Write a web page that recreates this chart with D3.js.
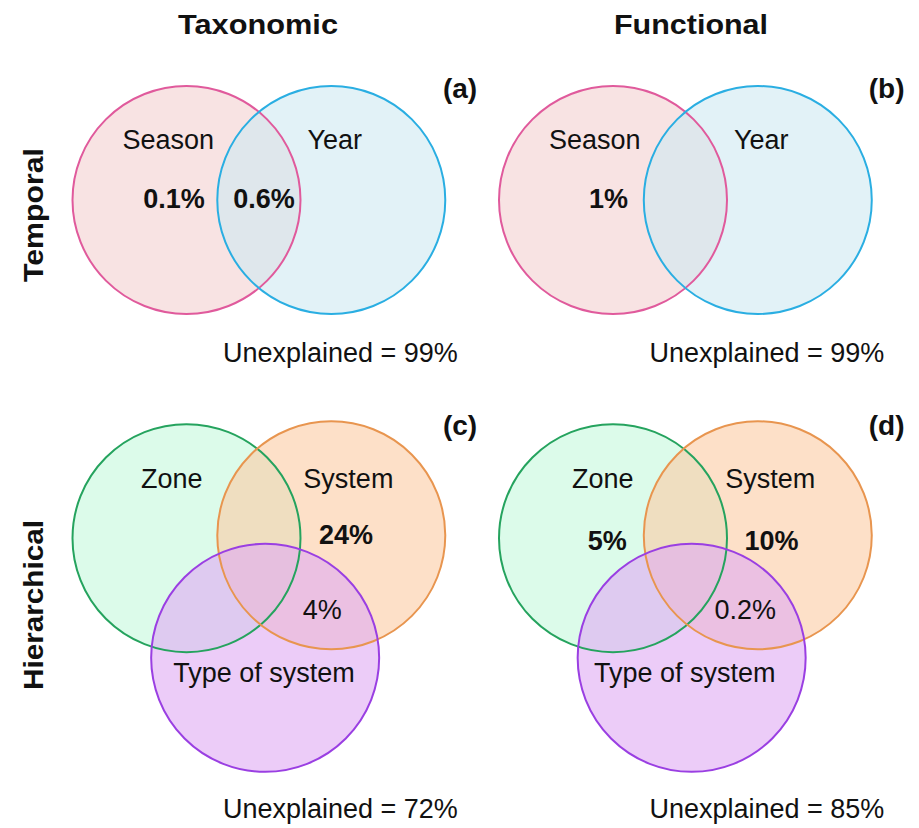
<!DOCTYPE html>
<html><head><meta charset="utf-8">
<script src="https://cdn.jsdelivr.net/npm/d3@7"></script>
<style>body{margin:0;background:#fff}svg{display:block}text{font-family:"Liberation Sans",Arial,sans-serif;fill:#111}</style>
</head><body>
<script>
// ---- data ----
const columnTitles = ["Taxonomic", "Functional"];
const rowTitles = ["Temporal", "Hierarchical"];
const panelLetters = ["(a)", "(b)", "(c)", "(d)"];
const temporalSets = ["Season", "Year"];
const hierarchicalSets = ["Zone", "System", "Type of system"];
const unexplained = ["99%", "99%", "72%", "85%"];
// fraction values shown inside the diagrams: [panel, region, label, bold]
const regionValues = [
  ["a", "Season", "0.1%", true],
  ["a", "Season∩Year", "0.6%", true],
  ["b", "Season", "1%", true],
  ["c", "System", "24%", true],
  ["c", "System∩Type", "4%", false],
  ["d", "Zone", "5%", true],
  ["d", "System", "10%", true],
  ["d", "System∩Type", "0.2%", false]
];

// ---- styles / layout ----
const W = 919, H = 828;
const stroke = {Season:"#e05a9c", Year:"#2aaee2", Zone:"#25a35e", System:"#e8954f", "Type of system":"#9a3fe2"};
const lightFill = {Season:"#f8e3e3", Year:"#e2f2f7", Zone:"#dcfbea", System:"#fde0c8", "Type of system":"#ecccf8"};
const alpha = 0.6;
function baseColor(c){ const k=d3.rgb(c); const f=v=>Math.max(0,Math.min(255,(v-(1-alpha)*255)/alpha)); return d3.rgb(f(k.r),f(k.g),f(k.b)).formatHex(); }

// layout units -> pixels via scales (unit = 1 circle radius)
const R = 114;
const colX = d3.scaleOrdinal().domain([0,1]).range([186.5, 613]);
const rowY = d3.scaleOrdinal().domain([0,1]).range([200, 537]);
const u = d3.scaleLinear().domain([0,1]).range([0,R]);

// circle offsets in radius units per set
const offsetTemporal = {Season:[0,0], Year:[1.27,0]};
const offsetHier = {Zone:[0,0.01], System:[1.27,-0.015], "Type of system":[0.69,1.06]};
// label anchors (radius units, text centre)
const labelPos = {Season:[-0.16,-0.53], Year:[1.3,-0.53], Zone:[-0.13,-0.51], System:[1.42,-0.51], "Type of system":[0.68,1.19]};
const labelPosD = {Zone:[-0.09,-0.51], System:[1.38,-0.51], "Type of system":[0.63,1.19]};
const valuePos = {
  a:{"Season":[-0.11,-0.01], "Season∩Year":[0.68,-0.01]},
  b:{"Season":[-0.04,-0.01]},
  c:{"System":[1.4,-0.02], "System∩Type":[1.19,0.64]},
  d:{"Zone":[-0.05,0.03], "System":[1.39,0.03], "System∩Type":[1.16,0.64]}
};

const svg = d3.select("body").append("svg").attr("width",W).attr("height",H);

// column titles
svg.selectAll("text.coltitle").data(columnTitles).join("text").attr("class","coltitle")
  .attr("x",(d,i)=>[258,691][i]).attr("y",34).attr("text-anchor","middle")
  .attr("font-size",28).attr("font-weight","bold")
  .attr("textLength",(d,i)=>[160,154][i]).attr("lengthAdjust","spacingAndGlyphs")
  .text(d=>d);

// row titles
svg.selectAll("text.rowtitle").data(rowTitles).join("text").attr("class","rowtitle")
  .attr("transform",(d,i)=>`translate(43,${[215,605][i]}) rotate(-90)`)
  .attr("text-anchor","middle").attr("font-size",28).attr("font-weight","bold")
  .attr("textLength",(d,i)=>[134,170][i]).attr("lengthAdjust","spacingAndGlyphs")
  .text(d=>d);

const panels = [
  {id:"a", col:0, row:0, sets:temporalSets, off:offsetTemporal, lp:labelPos},
  {id:"b", col:1, row:0, sets:temporalSets, off:offsetTemporal, lp:labelPos},
  {id:"c", col:0, row:1, sets:hierarchicalSets, off:offsetHier, lp:labelPos},
  {id:"d", col:1, row:1, sets:hierarchicalSets, off:offsetHier, lp:labelPosD}
];

panels.forEach((p,pi)=>{
  const cx = colX(p.col), cy = rowY(p.row);
  const g = svg.append("g");
  const circ = p.sets.map(s=>({name:s, x:cx+u(p.off[s][0]), y:cy+u(p.off[s][1])}));
  g.selectAll("circle.fill").data(circ).join("circle").attr("class","fill")
    .attr("cx",d=>d.x).attr("cy",d=>d.y).attr("r",u(1))
    .attr("fill",d=>baseColor(lightFill[d.name])).attr("fill-opacity",alpha);
  g.selectAll("circle.edge").data(circ).join("circle").attr("class","edge")
    .attr("cx",d=>d.x).attr("cy",d=>d.y).attr("r",u(1))
    .attr("fill","none").attr("stroke",d=>stroke[d.name]).attr("stroke-width",2);
  // set labels
  g.selectAll("text.setlab").data(p.sets).join("text").attr("class","setlab")
    .attr("x",s=>cx+u(p.lp[s][0])).attr("y",s=>cy+u(p.lp[s][1])).attr("dy","0.35em")
    .attr("text-anchor","middle").attr("font-size",27).text(s=>s);
  // values
  const vals = regionValues.filter(v=>v[0]===p.id);
  g.selectAll("text.val").data(vals).join("text").attr("class","val")
    .attr("x",v=>cx+u(valuePos[p.id][v[1]][0])).attr("y",v=>cy+u(valuePos[p.id][v[1]][1])).attr("dy","0.35em")
    .attr("text-anchor","middle").attr("font-size",27).attr("font-weight",v=>v[3]?"bold":"normal").text(v=>v[2]);
  // panel letter
  g.append("text").attr("x",cx+u(2.4)).attr("y",cy-u(0.98)).attr("dy","0.35em")
    .attr("text-anchor","middle").attr("font-size",28).attr("font-weight","bold").text(panelLetters[pi]);
  // unexplained
  g.append("text").attr("x",cx+u(1.35)).attr("y",[362,362,818,818][pi])
    .attr("text-anchor","middle").attr("font-size",27).text("Unexplained = "+unexplained[pi]);
});
</script>
</body></html>
